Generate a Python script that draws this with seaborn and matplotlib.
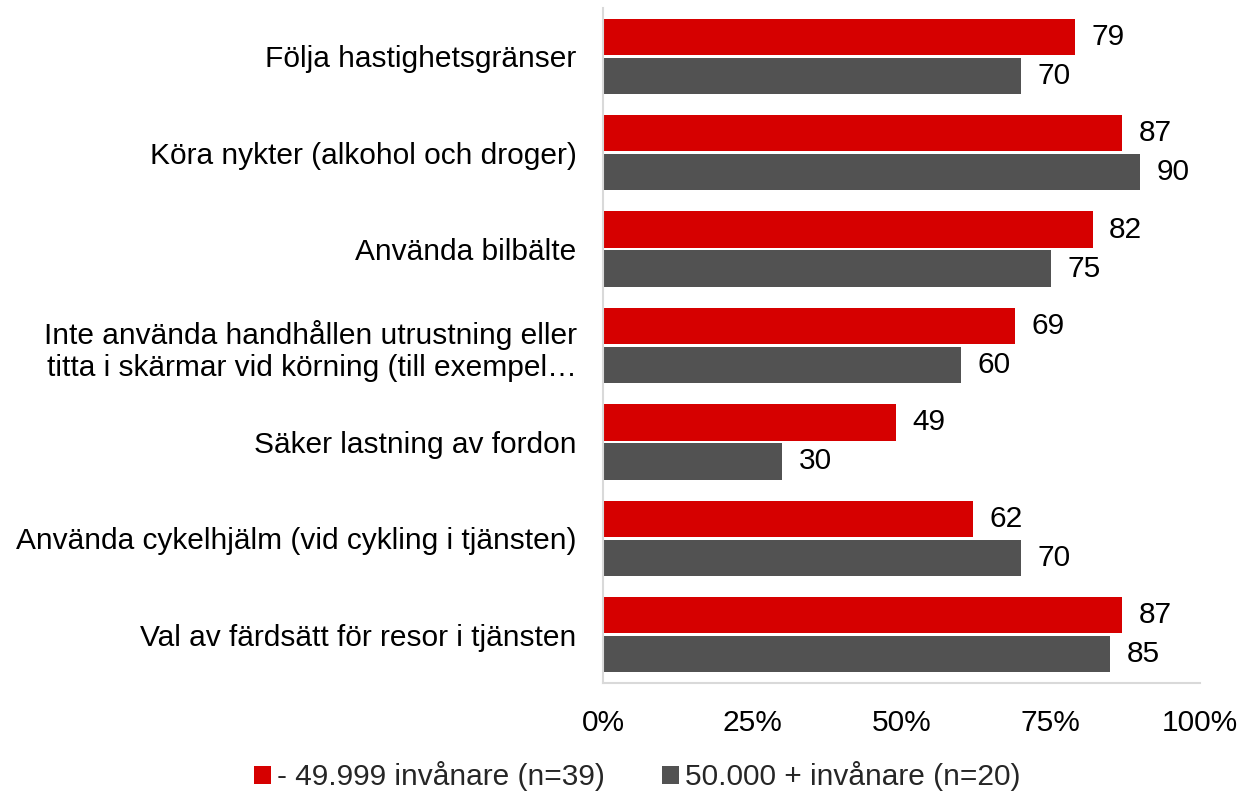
import pandas as pd
import matplotlib.pyplot as plt
import seaborn as sns

# Data
categories = [
    'Följa hastighetsgränser',
    'Köra nykter (alkohol och droger)',
    'Använda bilbälte',
    'Inte använda handhållen utrustning eller\ntitta i skärmar vid körning (till exempel…',
    'Säker lastning av fordon',
    'Använda cykelhjälm (vid cykling i tjänsten)',
    'Val av färdsätt för resor i tjänsten',
]
small_towns = [79, 87, 82, 69, 49, 62, 87]
large_towns = [70, 90, 75, 60, 30, 70, 85]
series_names = ['- 49.999 invånare (n=39)', '50.000 + invånare (n=20)']
colors = ['#D60000', '#525252']

df = pd.DataFrame({
    'category': categories * 2,
    'value': small_towns + large_towns,
    'group': [series_names[0]] * len(categories) + [series_names[1]] * len(categories),
})

sns.set_style('white')
plt.rcParams['font.family'] = ['Liberation Sans', 'DejaVu Sans']
fs = 21.5

fig, ax = plt.subplots(figsize=(12.42, 7.96), dpi=100)
fig.subplots_adjust(left=603/1242, right=1200/1242, top=1-8/796, bottom=1-683/796)

sns.barplot(data=df, y='category', x='value', hue='group', palette=colors,
            orient='h', width=0.81, gap=0.07, saturation=1, linewidth=0,
            ax=ax, legend=True)

# Value labels
for container in ax.containers:
    ax.bar_label(container, fmt='%d', padding=12, fontsize=fs, color='black')

ax.set_xlim(0, 100)
ax.set_xticks([0, 25, 50, 75, 100])
ax.set_xticklabels(['0%', '25%', '50%', '75%', '100%'])
ax.tick_params(axis='x', length=0, pad=19, labelsize=fs, labelcolor='black')
ax.tick_params(axis='y', length=0, pad=19, labelsize=fs, labelcolor='black')
ax.set_xlabel('')
ax.set_ylabel('')

for side in ['top', 'right']:
    ax.spines[side].set_visible(False)
for side in ['left', 'bottom']:
    ax.spines[side].set_color('#D9D9D9')
    ax.spines[side].set_linewidth(1.5)

handles, labels = ax.get_legend_handles_labels()
ax.legend_.remove()
fig.legend(handles, labels, loc='lower center', bbox_to_anchor=(0.513, -0.028),
           ncol=2, frameon=False, fontsize=fs, handlelength=0.58, handleheight=0.58,
           handletextpad=0.2, columnspacing=1.9)

plt.savefig('out.png', dpi=100)
plt.close()
